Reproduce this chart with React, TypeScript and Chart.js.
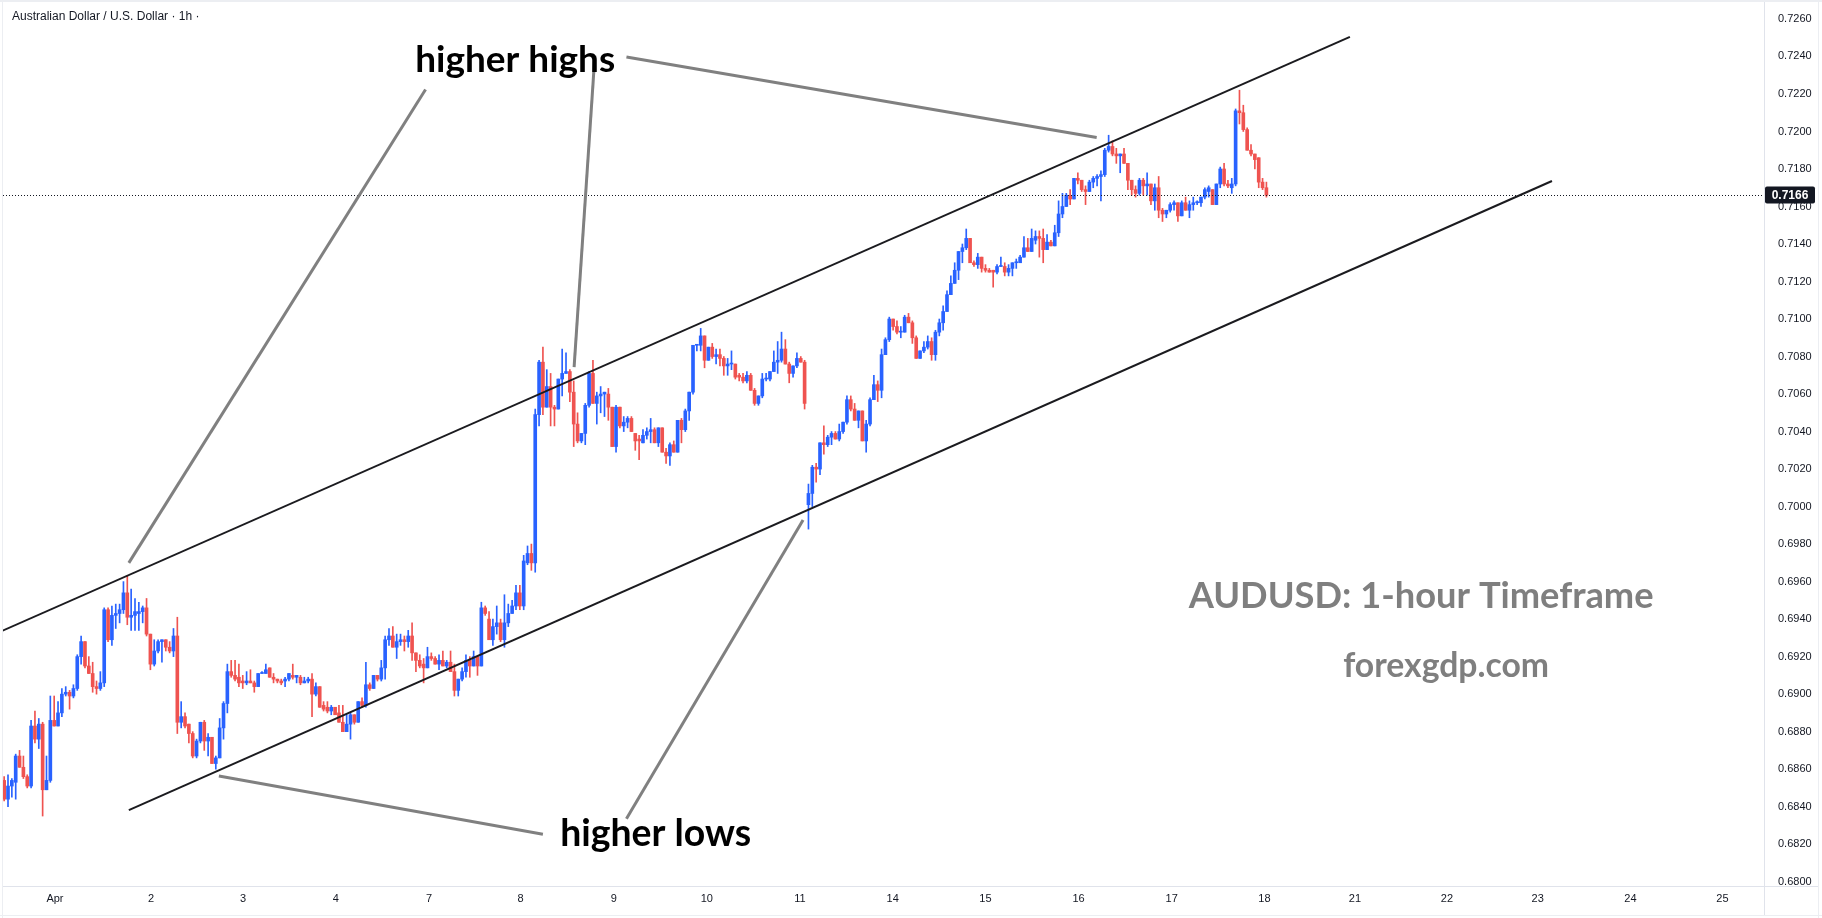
import React, { useEffect, useRef } from 'react';
import { Chart, registerables } from 'chart.js';

Chart.register(...registerables);

// ---- Data (AUD/USD, 1h candles, prices in pips: value / 10000) ----
const opens = [
  6854,6844,6851,6853,6867,6861,6856,6851,6883,6876,
  6884,6849,6854,6886,6883,6890,6900,6901,6899,6903,
  6920,6928,6915,6911,6904,6903,6906,6945,6929,6942,
  6943,6945,6954,6941,6942,6943,6944,6946,6932,6916,
  6923,6928,6929,6925,6923,6931,6885,6888,6884,6879,
  6867,6875,6885,6875,6877,6863,6866,6882,6895,6912,
  6910,6909,6907,6906,6907,6906,6904,6911,6911,6914,
  6909,6908,6907,6907,6908,6910,6909,6909,6906,6907,
  6908,6900,6904,6894,6893,6891,6893,6890,6885,6880,
  6884,6889,6885,6896,6894,6905,6903,6910,6908,6914,
  6929,6931,6925,6928,6929,6928,6931,6922,6918,6916,
  6914,6920,6919,6916,6918,6915,6917,6912,6902,6908,
  6912,6918,6915,6920,6915,6946,6940,6929,6936,6938,
  6929,6938,6943,6947,6954,6947,6970,6975,6970,7049,
  7077,7053,7064,7053,7052,7068,7071,7072,7061,7044,
  7035,7039,7054,7071,7055,7059,7060,7060,7053,7032,
  7053,7043,7045,7047,7039,7036,7034,7038,7040,7041,
  7034,7042,7029,7027,7033,7029,7046,7041,7051,7061,
  7086,7086,7091,7078,7085,7080,7081,7079,7075,7076,
  7076,7070,7069,7067,7070,7062,7055,7059,7068,7068,
  7072,7077,7078,7084,7076,7071,7075,7079,7077,7001,
  7007,7021,7020,7034,7033,7037,7039,7036,7040,7045,
  7057,7052,7046,7051,7035,7044,7057,7065,7062,7081,
  7089,7100,7096,7093,7093,7101,7098,7090,7079,7083,
  7085,7088,7081,7093,7098,7104,7113,7119,7126,7136,
  7138,7143,7130,7129,7133,7127,7126,7126,7125,7128,
  7128,7125,7127,7130,7130,7133,7138,7136,7142,7144,
  7143,7137,7141,7139,7146,7156,7160,7166,7164,7175,
  7174,7169,7168,7173,7175,7176,7177,7190,7192,7188,
  7187,7188,7183,7174,7169,7167,7174,7171,7172,7163,
  7170,7158,7156,7158,7161,7162,7155,7162,7158,7161,
  7162,7162,7165,7168,7169,7161,7172,7180,7172,7170,
  7172,7211,7210,7201,7190,7188,7186,7173,7170,
];

const highs = [
  6856,6857,6855,6868,6870,6867,6857,6886,6891,6887,
  6885,6867,6899,6899,6896,6903,6904,6902,6905,6921,
  6931,6928,6920,6917,6907,6912,6946,6946,6947,6948,
  6948,6960,6963,6956,6951,6949,6947,6951,6932,6929,
  6929,6929,6929,6928,6935,6941,6896,6890,6884,6880,
  6876,6885,6886,6879,6877,6867,6887,6896,6916,6918,
  6918,6916,6910,6912,6913,6907,6911,6912,6916,6914,
  6911,6908,6908,6909,6911,6916,6910,6910,6909,6909,
  6911,6906,6904,6896,6896,6894,6893,6894,6894,6889,
  6890,6889,6896,6898,6917,6906,6910,6910,6918,6931,
  6935,6936,6932,6932,6931,6934,6938,6922,6921,6919,
  6925,6922,6920,6921,6923,6918,6923,6916,6908,6914,
  6921,6920,6923,6920,6949,6947,6944,6940,6947,6940,
  6953,6948,6950,6958,6958,6974,6979,6980,7052,7078,
  7085,7073,7071,7054,7068,7084,7082,7073,7067,7050,
  7039,7055,7072,7078,7061,7064,7061,7063,7053,7054,
  7053,7048,7048,7048,7039,7038,7041,7042,7047,7042,
  7042,7042,7031,7034,7035,7046,7047,7052,7061,7086,
  7086,7095,7091,7085,7087,7084,7084,7080,7079,7083,
  7076,7071,7071,7072,7071,7063,7059,7071,7071,7072,
  7083,7088,7093,7089,7077,7075,7082,7080,7078,7012,
  7022,7023,7034,7043,7038,7040,7040,7044,7045,7059,
  7059,7055,7051,7051,7046,7058,7070,7067,7084,7090,
  7101,7100,7099,7096,7102,7103,7099,7091,7083,7088,
  7091,7090,7094,7100,7107,7115,7123,7130,7136,7140,
  7148,7143,7131,7135,7133,7129,7127,7126,7129,7133,
  7130,7129,7130,7132,7134,7144,7143,7148,7147,7147,
  7148,7145,7142,7150,7163,7167,7167,7169,7175,7178,
  7174,7171,7174,7176,7177,7179,7191,7198,7195,7191,
  7188,7191,7183,7174,7171,7175,7175,7178,7172,7172,
  7176,7159,7158,7162,7163,7162,7163,7165,7163,7165,
  7163,7165,7170,7171,7169,7172,7181,7183,7174,7175,
  7212,7222,7214,7202,7193,7188,7186,7175,7173,
];

const lows = [
  6843,6840,6845,6844,6861,6855,6850,6850,6874,6871,
  6835,6849,6853,6883,6883,6888,6899,6892,6898,6902,
  6916,6914,6911,6901,6900,6902,6904,6928,6926,6935,
  6938,6943,6937,6934,6934,6934,6938,6931,6913,6915,
  6922,6917,6923,6922,6920,6879,6882,6882,6874,6866,
  6866,6874,6870,6867,6863,6860,6866,6876,6890,6909,
  6907,6904,6903,6905,6906,6901,6904,6911,6911,6909,
  6906,6906,6905,6904,6907,6908,6906,6905,6906,6906,
  6888,6899,6893,6891,6890,6889,6889,6885,6880,6880,
  6876,6884,6885,6893,6893,6902,6903,6907,6907,6908,
  6926,6925,6919,6926,6923,6925,6918,6912,6914,6906,
  6914,6918,6916,6913,6915,6914,6912,6899,6899,6907,
  6909,6909,6915,6910,6915,6942,6929,6926,6932,6928,
  6925,6936,6943,6945,6945,6945,6969,6966,6965,7043,
  7049,7053,7043,7043,7052,7059,7071,7056,7032,7034,
  7034,7033,7053,7055,7044,7050,7048,7046,7032,7029,
  7042,7040,7042,7040,7030,7025,7034,7036,7034,7034,
  7032,7029,7023,7022,7029,7029,7034,7040,7046,7060,
  7083,7083,7074,7078,7079,7076,7075,7070,7070,7073,
  7068,7067,7066,7066,7062,7054,7054,7058,7067,7067,
  7072,7071,7077,7076,7066,7069,7074,7077,7052,6988,
  7000,7013,7017,7028,7032,7033,7036,7035,7039,7044,
  7051,7046,7042,7035,7029,7043,7057,7056,7058,7081,
  7088,7094,7092,7090,7093,7098,7087,7079,7079,7082,
  7084,7078,7078,7091,7094,7104,7113,7119,7121,7130,
  7137,7130,7128,7127,7125,7125,7125,7117,7124,7128,
  7123,7123,7123,7127,7130,7133,7136,7136,7140,7133,
  7130,7137,7139,7139,7144,7154,7160,7161,7164,7172,
  7168,7161,7168,7170,7171,7163,7176,7189,7187,7183,
  7178,7183,7169,7166,7165,7166,7166,7166,7161,7158,
  7154,7152,7154,7157,7158,7152,7155,7158,7154,7158,
  7161,7160,7164,7165,7161,7161,7170,7171,7170,7167,
  7171,7204,7200,7190,7187,7180,7170,7169,7165,
];

const closes = [
  6844,6851,6854,6867,6861,6856,6851,6883,6876,6884,
  6849,6854,6886,6883,6890,6900,6901,6899,6903,6920,
  6928,6915,6911,6904,6903,6906,6945,6929,6942,6943,
  6945,6954,6941,6942,6944,6944,6946,6932,6916,6923,
  6928,6929,6925,6923,6931,6885,6888,6883,6879,6867,
  6875,6885,6875,6877,6863,6866,6882,6895,6912,6910,
  6908,6906,6906,6907,6906,6904,6911,6911,6913,6909,
  6908,6907,6906,6908,6911,6909,6910,6906,6907,6908,
  6900,6904,6893,6892,6891,6893,6889,6885,6880,6884,
  6889,6885,6896,6894,6905,6903,6910,6908,6914,6929,
  6931,6925,6928,6929,6928,6931,6922,6918,6915,6914,
  6920,6919,6916,6918,6915,6917,6912,6902,6908,6912,
  6918,6915,6920,6915,6946,6943,6929,6936,6938,6929,
  6938,6943,6947,6954,6947,6971,6975,6970,7049,7077,
  7053,7064,7053,7052,7068,7071,7072,7061,7044,7035,
  7039,7054,7071,7055,7059,7060,7061,7053,7032,7053,
  7043,7045,7047,7040,7035,7035,7038,7040,7041,7034,
  7042,7029,7027,7033,7029,7046,7041,7051,7061,7086,
  7086,7091,7078,7085,7080,7081,7079,7075,7076,7076,
  7069,7069,7067,7070,7062,7055,7059,7068,7068,7072,
  7077,7078,7084,7076,7071,7075,7079,7077,7055,7007,
  7021,7020,7034,7033,7037,7039,7036,7040,7045,7057,
  7052,7046,7051,7035,7044,7057,7065,7062,7081,7089,
  7100,7096,7093,7093,7101,7098,7090,7079,7083,7085,
  7088,7081,7093,7098,7104,7113,7119,7126,7136,7138,
  7143,7130,7129,7133,7127,7126,7125,7125,7128,7128,
  7125,7127,7130,7130,7133,7138,7136,7143,7144,7143,
  7137,7141,7139,7146,7156,7160,7166,7164,7175,7174,
  7169,7168,7173,7175,7176,7177,7190,7192,7188,7187,
  7188,7183,7174,7169,7167,7174,7171,7172,7163,7170,
  7158,7156,7158,7161,7162,7155,7162,7158,7161,7162,
  7162,7165,7169,7170,7161,7172,7180,7172,7171,7172,
  7211,7210,7201,7190,7188,7185,7173,7170,7166,
];

// Time axis: day labels and the bar index at which each day starts
const dayLabels = ['Apr', '2', '3', '4', '7', '8', '9', '10', '11', '14', '15', '16', '17', '18', '21', '22', '23', '24', '25'];
const dayTickIndex = [13.2, 38.2, 62.1, 86.2, 110.4, 134.2, 158.4, 182.6, 206.8, 230.9, 255.0, 279.2, 303.4, 327.5, 351.0, 374.9, 398.5, 422.6, 446.5];

// Price axis tick labels
const priceTicks = [
  0.6800, 0.6820, 0.6840, 0.6860, 0.6880, 0.6900, 0.6920, 0.6940, 0.6960, 0.6980,
  0.7000, 0.7020, 0.7040, 0.7060, 0.7080, 0.7100, 0.7120, 0.7140, 0.7160, 0.7180,
  0.7200, 0.7220, 0.7240, 0.7260,
];
const lastPrice = 0.7166;

// Drawings (bar index, price)
const channelLines = [
  [[-0.56, 0.69337], [349.7, 0.72504]],
  [[32.4, 0.68382], [402.2, 0.71736]],
];
const pointerLines = [
  [[109.5, 0.72224], [32.4, 0.69700]],
  [[153.5, 0.72404], [148.1, 0.70744]],
  [[161.7, 0.72397], [283.9, 0.71968]],
  [[55.8, 0.68564], [140.0, 0.68253]],
  [[161.7, 0.68335], [207.6, 0.69929]],
];
const noteTexts = ['higher highs', 'higher lows', 'AUDUSD: 1-hour Timeframe', 'forexgdp.com'];
const noteAnchors = [[132.8, 0.72317], [169.3, 0.68190], [368.2, 0.69460], [374.7, 0.69090]];

const BLUE = '#2962ff';
const RED = '#ef5350';
const INK = '#131722';
const LINE = '#e0e3eb';

export default function App() {
  const ref = useRef<HTMLCanvasElement>(null);

  useEffect(() => {
    document.body.style.margin = '0';
    const canvas = ref.current!;
    const AX_FONT = '"Liberation Sans", Arial, sans-serif';
    const TXT_FONT = 'Lato, "Open Sans", sans-serif';

    const idx = opens.map((_, i) => i);
    const colors = idx.map((i) => (closes[i] >= opens[i] ? BLUE : RED));

    const overlay = {
      id: 'overlay',
      afterDatasetsDraw(chart: any) {
        const { ctx, chartArea: ca, scales } = chart;
        const x = scales.x;
        const y = scales.y;
        const px = (p: number[]) => [x.getPixelForValue(p[0]), y.getPixelForValue(p[1])];
        ctx.save();
        ctx.beginPath();
        ctx.rect(ca.left, ca.top, ca.right - ca.left, ca.bottom - ca.top);
        ctx.clip();

        // last price dotted line
        const yp = Math.round(y.getPixelForValue(lastPrice)) + 0.5;
        ctx.setLineDash([1, 2]);
        ctx.strokeStyle = INK;
        ctx.lineWidth = 1;
        ctx.beginPath();
        ctx.moveTo(ca.left, yp);
        ctx.lineTo(ca.right, yp);
        ctx.stroke();
        ctx.setLineDash([]);

        // channel
        ctx.strokeStyle = '#1b1b1f';
        ctx.lineWidth = 2;
        for (const [a, b] of channelLines) {
          const [x1, y1] = px(a);
          const [x2, y2] = px(b);
          ctx.beginPath();
          ctx.moveTo(x1, y1);
          ctx.lineTo(x2, y2);
          ctx.stroke();
        }
        // pointers
        ctx.strokeStyle = '#808080';
        ctx.lineWidth = 3;
        for (const [a, b] of pointerLines) {
          const [x1, y1] = px(a);
          const [x2, y2] = px(b);
          ctx.beginPath();
          ctx.moveTo(x1, y1);
          ctx.lineTo(x2, y2);
          ctx.stroke();
        }

        // texts
        const widths = [200, 191, 465, 206];
        const fills = ['#000000', '#000000', '#7f7f7f', '#7f7f7f'];
        noteTexts.forEach((t, i) => {
          const [cx, by] = px(noteAnchors[i]);
          ctx.font = `bold 100px ${TXT_FONT}`;
          const w = ctx.measureText(t).width;
          const size = (100 * widths[i]) / w;
          ctx.font = `bold ${size}px ${TXT_FONT}`;
          ctx.fillStyle = fills[i];
          ctx.textAlign = 'center';
          ctx.textBaseline = 'alphabetic';
          ctx.fillText(t, cx, by);
        });
        ctx.restore();
      },
      afterDraw(chart: any) {
        const { ctx, chartArea: ca, scales } = chart;
        const y = scales.y;
        const W = chart.width;
        const H = chart.height;
        ctx.save();
        // frame + separators
        ctx.fillStyle = '#eceef2';
        ctx.fillRect(0, 0, W, 2);
        ctx.fillRect(2, 0, 1, H);
        ctx.fillRect(W - 4, 0, 1, H);
        ctx.fillRect(0, H - 3, W, 1);
        ctx.fillStyle = LINE;
        ctx.fillRect(Math.round(ca.right), 2, 1, H - 5);
        ctx.fillRect(3, Math.round(ca.bottom), W - 7, 1);

        // header
        ctx.fillStyle = INK;
        ctx.font = `12px ${AX_FONT}`;
        ctx.textAlign = 'left';
        ctx.textBaseline = 'middle';
        ctx.fillText('Australian Dollar / U.S. Dollar \u00b7 1h \u00b7', 12, 17);

        // last price tag
        const yp = Math.round(y.getPixelForValue(lastPrice));
        const bx = Math.round(ca.right) + 1;
        const bw = 50;
        const bh = 17;
        ctx.fillStyle = INK;
        ctx.beginPath();
        (ctx as any).roundRect(bx, yp - bh / 2, bw, bh, 2);
        ctx.fill();
        ctx.fillStyle = '#ffffff';
        ctx.font = `bold 12px ${AX_FONT}`;
        ctx.textAlign = 'center';
        ctx.textBaseline = 'middle';
        ctx.fillText(lastPrice.toFixed(4), bx + bw / 2, yp + 0.5);
        ctx.restore();
      },
    };

    const chart = new Chart(canvas, {
      type: 'bar',
      data: {
        datasets: [
          {
            label: 'wick',
            data: idx.map((i) => ({ x: i, y: [lows[i] / 10000, highs[i] / 10000] })) as any,
            backgroundColor: colors,
            barThickness: 1,
            grouped: false,
            order: 2,
          } as any,
          {
            label: 'body',
            data: idx.map((i) => ({ x: i, y: [opens[i] / 10000, closes[i] / 10000] })) as any,
            backgroundColor: colors,
            barThickness: 3,
            minBarLength: 1,
            grouped: false,
            order: 1,
          } as any,
        ],
      },
      options: {
        responsive: false,
        animation: false,
        devicePixelRatio: 1,
        events: [],
        layout: { padding: { left: 3, right: 4, top: 3, bottom: 3 } },
        plugins: { legend: { display: false }, tooltip: { enabled: false } },
        scales: {
          x: {
            type: 'linear',
            min: -0.3,
            max: 457.3,
            offset: false,
            grid: { display: false, drawTicks: false },
            border: { display: false },
            afterBuildTicks: (s: any) => {
              s.ticks = dayTickIndex.map((v) => ({ value: v }));
            },
            afterFit: (s: any) => {
              s.height = 29;
              s.paddingLeft = 0;
              s.paddingRight = 0;
            },
            ticks: {
              autoSkip: false,
              maxRotation: 0,
              minRotation: 0,
              padding: 6,
              color: INK,
              font: { family: AX_FONT, size: 11 },
              callback: (_v: any, i: number) => dayLabels[i],
            },
          },
          y: {
            type: 'linear',
            position: 'right',
            min: 0.67977,
            max: 0.72685,
            grid: { display: false, drawTicks: false },
            border: { display: false },
            afterBuildTicks: (s: any) => {
              s.ticks = priceTicks.map((v) => ({ value: v }));
            },
            afterFit: (s: any) => {
              s.width = 54;
              s.paddingTop = 0;
              s.paddingBottom = 0;
            },
            ticks: {
              padding: 14,
              color: INK,
              font: { family: AX_FONT, size: 11 },
              callback: (v: any) => Number(v).toFixed(4),
            },
          },
        },
      } as any,
      plugins: [overlay],
    });
    return () => chart.destroy();
  }, []);

  return (
    <div style={{ position: 'absolute', left: 0, top: 0, width: 1822, height: 918, background: '#ffffff' }}>
      <canvas ref={ref} width={1822} height={918} style={{ width: 1822, height: 918, display: 'block' }} />
    </div>
  );
}
